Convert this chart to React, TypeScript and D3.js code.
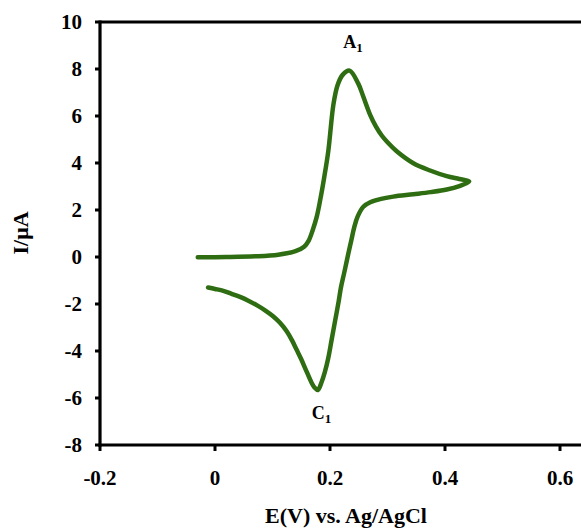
import React from "react";
import * as d3 from "d3";

const xTicks = [-0.2, 0, 0.2, 0.4, 0.6];
const yTicks = [-8, -6, -4, -2, 0, 2, 4, 6, 8, 10];
const xTickLabels = ["-0.2", "0", "0.2", "0.4", "0.6"];

const forwardE = [-0.03, 0.02, 0.07, 0.11, 0.14, 0.155, 0.163, 0.17, 0.177, 0.183, 0.19, 0.197, 0.206, 0.213, 0.222, 0.234, 0.249, 0.258, 0.27, 0.28, 0.29, 0.3, 0.316, 0.345, 0.374, 0.403, 0.425, 0.442];
const forwardI = [-0.01, 0.0, 0.03, 0.1, 0.25, 0.44, 0.7, 1.15, 1.72, 2.43, 3.4, 4.5, 6.5, 7.3, 7.75, 7.93, 7.39, 6.82, 6.04, 5.55, 5.17, 4.88, 4.5, 3.99, 3.68, 3.44, 3.32, 3.22];

const reverseE = [0.442, 0.425, 0.403, 0.375, 0.345, 0.31, 0.287, 0.27, 0.258, 0.248, 0.242, 0.237, 0.232, 0.228, 0.224, 0.219, 0.215, 0.209, 0.203, 0.197, 0.191, 0.185, 0.179, 0.173, 0.168, 0.158, 0.15, 0.142, 0.134, 0.125, 0.113, 0.101, 0.087, 0.0725, 0.058, 0.0435, 0.028, 0.0145, 0, -0.012];
const reverseI = [3.22, 3.02, 2.87, 2.76, 2.67, 2.57, 2.46, 2.33, 2.14, 1.72, 1.25, 0.7, 0.16, -0.3, -0.75, -1.3, -1.9, -2.7, -3.5, -4.3, -4.9, -5.35, -5.66, -5.55, -5.35, -4.8, -4.35, -3.95, -3.55, -3.17, -2.8, -2.52, -2.27, -2.05, -1.86, -1.7, -1.56, -1.44, -1.36, -1.3];

const peakLabels = [
  { base: "A", sub: "1", E: 0.24, I: 8.9 },
  { base: "C", sub: "1", E: 0.185, I: -6.9 },
];

const W = 581;
const H = 528;
const serif = "'Liberation Serif', 'Times New Roman', serif";
const green = "#2f6d13";

export default function App() {
  const x = d3.scaleLinear().domain([-0.2, 0.6]).range([100, 560]);
  const y = d3.scaleLinear().domain([-8, 10]).range([445, 22]);

  const pts: [number, number][] = [];
  forwardE.forEach((e, i) => pts.push([e, forwardI[i]]));
  reverseE.slice(1).forEach((e, i) => pts.push([e, reverseI[i + 1]]));

  const line = d3
    .line<[number, number]>()
    .x((d) => x(d[0]))
    .y((d) => y(d[1]))
    .curve(d3.curveCatmullRom.alpha(0.5));

  const x0 = x(-0.2);
  const yTop = y(10);
  const yBot = y(-8);

  return (
    <svg
      width={W}
      height={H}
      style={{ position: "absolute", left: 0, top: 0, background: "#fff" }}
    >
      <path
        d={line(pts) || ""}
        fill="none"
        stroke={green}
        strokeWidth={4.5}
        strokeLinejoin="round"
        strokeLinecap="round"
      />
      <line x1={x0} x2={W} y1={yTop} y2={yTop} stroke="#000" strokeWidth={3.2} />
      <line x1={x0 - 1.6} x2={W} y1={yBot} y2={yBot} stroke="#000" strokeWidth={3.2} />
      <line x1={x0} x2={x0} y1={yTop - 1.6} y2={yBot + 1.6} stroke="#000" strokeWidth={3.2} />
      {yTicks.map((t) => (
        <g key={"y" + t}>
          <line x1={x0 - 5} x2={x0} y1={y(t)} y2={y(t)} stroke="#000" strokeWidth={3} />
          <text
            x={82}
            y={y(t)}
            dy="0.35em"
            textAnchor="end"
            fontFamily={serif}
            fontWeight="bold"
            fontSize={21}
          >
            {t}
          </text>
        </g>
      ))}
      {xTicks.map((t, i) => (
        <g key={"x" + t}>
          <line x1={x(t)} x2={x(t)} y1={yBot} y2={yBot + 6} stroke="#000" strokeWidth={3} />
          <text
            x={x(t)}
            y={485}
            textAnchor="middle"
            fontFamily={serif}
            fontWeight="bold"
            fontSize={21}
          >
            {xTickLabels[i]}
          </text>
        </g>
      ))}
      <text
        x={346}
        y={523}
        textAnchor="middle"
        fontFamily={serif}
        fontWeight="bold"
        fontSize={22}
      >
        E(V) vs. Ag/AgCl
      </text>
      <text
        transform={`translate(28,233) rotate(-90)`}
        textAnchor="middle"
        fontFamily={serif}
        fontWeight="bold"
        fontSize={22}
      >
        I/μA
      </text>
      {peakLabels.map((p) => (
        <text
          key={p.base}
          x={x(p.E)}
          y={y(p.I)}
          textAnchor="middle"
          fontFamily={serif}
          fontWeight="bold"
          fontSize={18}
        >
          {p.base}
          <tspan fontSize={13} dy={4}>
            {p.sub}
          </tspan>
        </text>
      ))}
    </svg>
  );
}
